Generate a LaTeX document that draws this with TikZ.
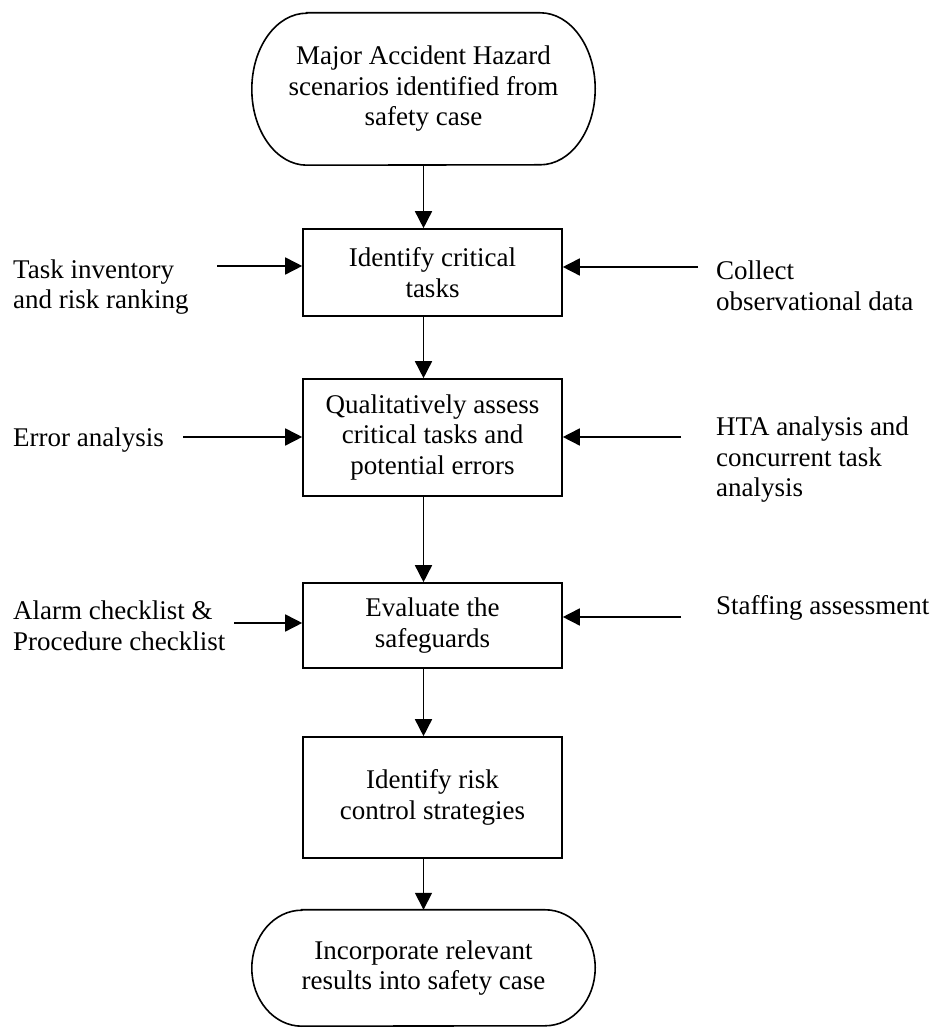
\documentclass[tikz,border=0pt]{standalone}
\usepackage{fontspec}
\setmainfont{Liberation Serif}
\usetikzlibrary{arrows.meta}

\tikzset{
    every node/.style={font=\fontsize{27}{30.5}\selectfont, inner sep=0pt},
    stepbox/.style={draw, line width=1.6pt, minimum width=259pt, align=center},
    terminal/.style={minimum width=343pt, align=center},
    input/.style={anchor=west, align=left},
    flow/.style={line width=1.6pt, -{Triangle[length=17pt, width=17pt]}},
    outline/.style={line width=1.6pt},
}

\begin{document}
\begin{tikzpicture}[x=1pt, y=1pt]
    \useasboundingbox (0, 0) rectangle (940, 1028);

    % Main chain
    \node[terminal, minimum height=152pt] (start) at (423.5, 939) {Major Accident Hazard\\scenarios identified from\\safety case};
    \node[stepbox, minimum height=87pt] (tasks) at (432.5, 755.5) {Identify critical\\tasks};
    \node[stepbox, minimum height=117pt] (assess) at (432.5, 590.5) {Qualitatively assess\\critical tasks and\\potential errors};
    \node[stepbox, minimum height=85pt] (safeguards) at (432.5, 402.5) {Evaluate the\\safeguards};
    \node[stepbox, minimum height=121pt] (strategies) at (432.5, 230.5) {Identify risk\\control strategies};
    \node[terminal, minimum height=116pt] (finish) at (423.5, 60) {Incorporate relevant\\results into safety case};

    % Terminal outlines
    \foreach \n/\rx/\ry in {start/55/76, finish/50/58} {
        \draw[outline] ([xshift=\rx pt]\n.north west) -- ([xshift=-\rx pt]\n.north east)
            arc[start angle=90, end angle=-90, x radius=\rx pt, y radius=\ry pt]
            -- ([xshift=\rx pt]\n.south west)
            arc[start angle=270, end angle=90, x radius=\rx pt, y radius=\ry pt] -- cycle;
    }

    % Inputs, left side
    \node[input] (inventory) at (13, 741) {Task inventory\\and risk ranking};
    \node[input] (error) at (13, 588) {Error analysis};
    \node[input] (alarm) at (13, 402) {Alarm checklist \&\\Procedure checklist};

    % Inputs, right side
    \node[input] (observe) at (716, 742) {Collect\\observational data};
    \node[input] (hta) at (716, 568) {HTA analysis and\\concurrent task\\analysis};
    \node[input] (staffing) at (716, 420) {Staffing assessment};

    % Arrow tails of the inputs
    \coordinate (inventory-out) at (217, 762);
    \coordinate (error-out) at (183, 591);
    \coordinate (alarm-out) at (234, 405);
    \coordinate (observe-out) at (698, 761);
    \coordinate (hta-out) at (681, 591);
    \coordinate (staffing-out) at (681, 411);

    % Vertical flow
    \foreach \a/\b in {start/tasks, tasks/assess, assess/safeguards, safeguards/strategies, strategies/finish} {
        \draw[flow] (\a.south -| start.south) -- (\b.north -| start.south);
    }

    % Side arrows
    \foreach \src/\dst in {inventory/tasks, error/assess, alarm/safeguards} {
        \draw[flow] (\src-out) -- (\src-out -| \dst.west);
    }
    \foreach \src/\dst in {observe/tasks, hta/assess, staffing/safeguards} {
        \draw[flow] (\src-out) -- (\src-out -| \dst.east);
    }
\end{tikzpicture}
\end{document}
